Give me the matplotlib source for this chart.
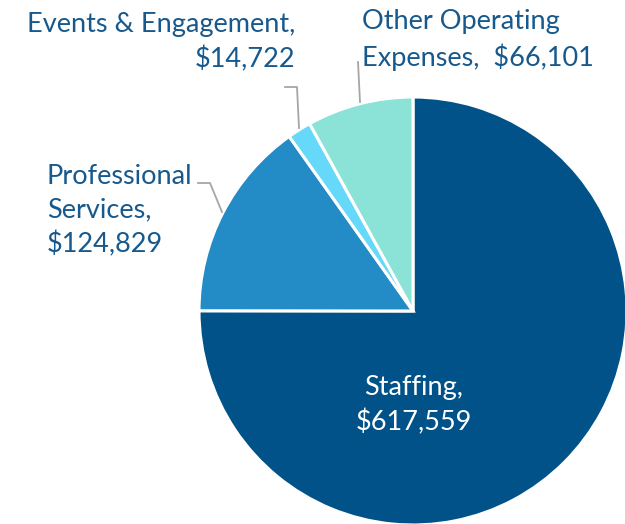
import matplotlib

matplotlib.use("Agg")
import matplotlib.pyplot as plt

plt.rcParams["font.family"] = ["Lato", "DejaVu Sans"]

# data
categories = ["Staffing", "Professional Services", "Events & Engagement",
              "Other Operating Expenses"]
values = [617559, 124829, 14722, 66101]
colors = ["#005288", "#238CC6", "#66D8FA", "#8AE3D6"]

TXT = "#17598C"
GREY = "#A6A6A6"

W, H = 625, 524
CX, CY, R = 413, 311, 214  # pie centre / radius in pixels


def px(x, y):
    """pixel position -> data coords of the pie axes"""
    return (x - CX) / R, (CY - y) / R


fig = plt.figure(figsize=(W / 100, H / 100), dpi=100)
ax = fig.add_axes([(CX - R) / W, (H - CY - R) / H, 2 * R / W, 2 * R / H])
ax.pie(values, colors=colors, startangle=90, counterclock=False,
       wedgeprops=dict(edgecolor="white", linewidth=2.2))
ax.set_xlim(-1, 1)
ax.set_ylim(-1, 1)
ax.set_aspect("equal")
ax.axis("off")

fs = 19.5
ls = 1.42

# staffing label (inside)
ax.text(*px(414, 405), f"Staffing,\n${values[0]:,}", color="white",
        fontsize=fs, ha="center", va="center", linespacing=ls)

# professional services
ax.text(*px(47, 211), f"Professional\nServices,\n${values[1]:,}", color=TXT,
        fontsize=fs, ha="left", va="center", linespacing=ls, clip_on=False)
ax.plot(*zip(px(198, 183), px(210, 183), px(222, 212)), color=GREY, lw=1.3,
        clip_on=False)

# events & engagement
ax.text(*px(295, 42), f"Events & Engagement,\n${values[2]:,}", color=TXT,
        fontsize=fs, ha="right", va="center", linespacing=ls, clip_on=False)
ax.plot(*zip(px(285, 87), px(297, 87), px(299, 128)), color=GREY, lw=1.3,
        clip_on=False)

# other operating expenses
ax.text(*px(362, 40), f"Other Operating\nExpenses,  ${values[3]:,}", color=TXT,
        fontsize=fs, ha="left", va="center", linespacing=ls, clip_on=False)
ax.plot(*zip(px(358, 62), px(360, 102)), color=GREY, lw=1.3, clip_on=False)

fig.savefig("out.png", dpi=100)
